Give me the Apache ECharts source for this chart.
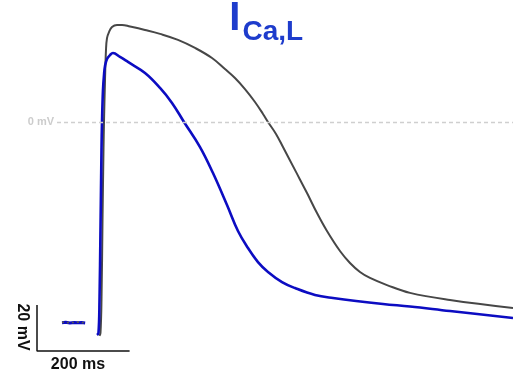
<!DOCTYPE html>
<html>
<head>
<meta charset="utf-8">
<script src="https://cdn.jsdelivr.net/npm/echarts@6/dist/echarts.min.js"></script>
<style>
  html, body { margin: 0; padding: 0; background: #fff; }
  #chart { width: 513px; height: 376px; }
</style>
</head>
<body>
<div id="chart"></div>
<script>
// Action potential recordings: time in ms, membrane potential in mV.
// Resting segment recorded before the stimulus (shared by both traces).
const restTime = [54, 62, 71, 80, 89, 96, 104];
const controlRest = [-87.0, -87.3, -87.1, -87.2, -87.0, -87.3, -87.1];
const blockedRest = [-87.3, -87.1, -87.4, -87.2, -87.3, -87.2, -87.4];

// Control trace (grey)
const controlTime = [135.0, 137.1, 139.3, 141.5, 143.6, 144.7, 146.9, 149.0, 151.2, 155.5, 162.0, 172.8, 183.6, 200.9,
  233.3, 265.7, 304.5, 341.3, 378.0, 406.0, 427.6, 449.2, 470.8, 488.1, 498.9, 516.2, 531.3, 559.4, 583.2, 604.8,
  626.3, 654.4, 676.0, 697.6, 719.2, 755.9, 805.6, 892.0, 1028.1];
const controlMv = [-93.0, -91.7, -77.4, -42.6, -12.2, 0, 18.3, 31.3, 36.5, 39.1, 41.3, 42.2, 42.2, 41.5,
  40.0, 38.3, 35.7, 32.2, 27.8, 23.0, 19.1, 14.3, 8.7, 3.5, 0, -5.2, -10.9, -21.7, -30.9, -39.6,
  -47.4, -56.1, -61.3, -65.2, -67.8, -70.9, -74.3, -77.4, -80.9];

// Trace with L-type Ca2+ current reduced (blue)
const blockedTime = [129.6, 132.8, 135.0, 137.1, 139.3, 140.4, 142.5, 144.7, 146.9, 151.2, 157.7, 164.1, 179.3, 196.5,
  233.3, 265.7, 291.6, 317.5, 352.1, 380.1, 410.4, 434.1, 455.7, 477.3, 498.9, 529.2, 557.2, 600.4, 639.3, 747.3,
  805.6, 892.0, 1028.1];
const blockedMv = [-92.6, -91.7, -77.4, -47.0, -12.2, 0, 13.9, 20.4, 24.3, 27.4, 29.1, 30.0, 28.3, 26.1,
  21.3, 14.8, 8.3, 0, -10.9, -22.2, -36.1, -47.4, -54.8, -60.9, -65.2, -69.6, -72.2, -75.2, -76.5, -79.1,
  -80.2, -82.2, -85.2];

// Scale bar: 200 ms by 20 mV
const scaleBarTime = [0, 0, 200];
const scaleBarMv = [-79.6, -99.6, -99.6];

const zip = (xs, ys) => xs.map((x, i) => [x, ys[i]]);

const BLUE = '#0c0cc2';
const GREY = '#474747';
const FONT = '"Liberation Sans", Arial, sans-serif';

const chart = echarts.init(document.getElementById('chart'), null, { renderer: 'canvas' });
chart.setOption({
  animation: false,
  grid: { left: 37, right: 0, top: 0, bottom: 0 },
  xAxis: { type: 'value', min: 0, max: 1028.1, show: false },
  yAxis: { type: 'value', min: -110.43, max: 53.04, show: false },
  graphic: [
    { type: 'text', style: { text: 'I', x: 234.8, y: 19, align: 'center', verticalAlign: 'middle',
        font: 'bold 40px ' + FONT, fill: '#1e3ccc' } },
    { type: 'text', style: { text: 'Ca,L', x: 242.5, y: 32, align: 'left', verticalAlign: 'middle',
        font: 'bold 28px ' + FONT, fill: '#1e3ccc' } },
    { type: 'text', rotation: -Math.PI / 2, x: 22, y: 327,
      style: { text: '20 mV', x: 0, y: 0, align: 'center', verticalAlign: 'middle',
        font: 'bold 16px ' + FONT, fill: '#111' } },
    { type: 'text', style: { text: '200 ms', x: 78, y: 365, align: 'center', verticalAlign: 'middle',
        font: 'bold 16px ' + FONT, fill: '#111' } }
  ],
  series: [
    {
      name: 'scale', type: 'line', data: zip(scaleBarTime, scaleBarMv), symbol: 'none',
      lineStyle: { color: '#111', width: 1.5 }, silent: true
    },
    {
      name: 'zero', type: 'line', data: [], symbol: 'none',
      markLine: {
        silent: true, symbol: 'none',
        lineStyle: { color: '#cfcfcf', width: 1.3, type: [4, 3] },
        label: { show: true, position: 'start', formatter: '0 mV', color: '#cccccc', distance: 3,
          fontWeight: 'bold', fontSize: 11, fontFamily: FONT },
        data: [[{ coord: [43.2, 0] }, { coord: [1028.1, 0] }]]
      }
    },
    {
      name: 'blocked rest', type: 'line', data: zip(restTime, blockedRest), symbol: 'none',
      lineStyle: { color: BLUE, width: 3 }
    },
    {
      name: 'control rest', type: 'line', data: zip(restTime, controlRest), symbol: 'none',
      lineStyle: { color: '#555', width: 1.6, type: [2, 3] }
    },
    {
      name: 'control', type: 'line', data: zip(controlTime, controlMv), symbol: 'none',
      smooth: 0.4,
      lineStyle: { color: GREY, width: 2 }
    },
    {
      name: 'blocked', type: 'line', data: zip(blockedTime, blockedMv), symbol: 'none',
      smooth: 0.4,
      lineStyle: { color: BLUE, width: 2.6 }
    }
  ]
});
</script>
</body>
</html>
